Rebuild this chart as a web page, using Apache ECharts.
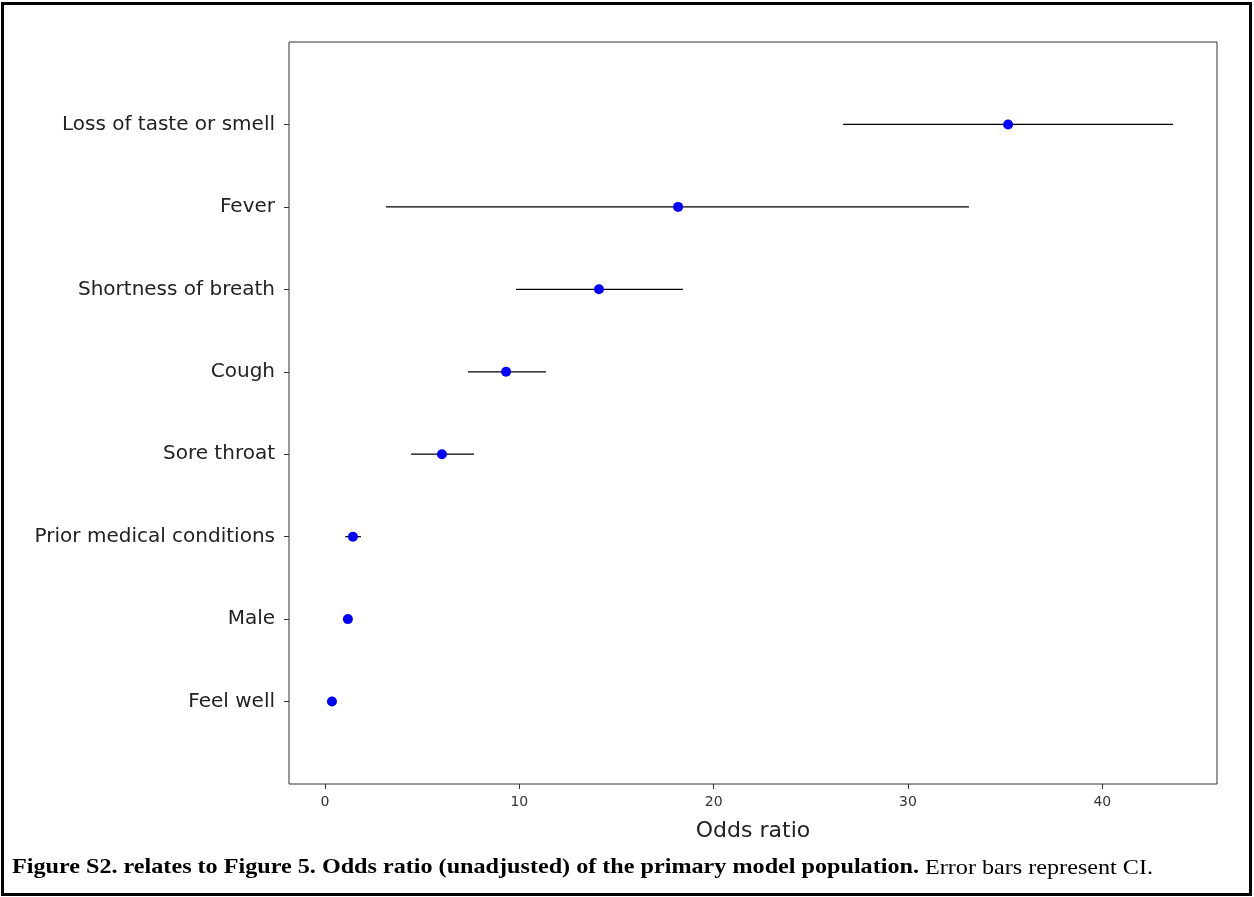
<!DOCTYPE html>
<html><head><meta charset="utf-8">
<script src="https://cdn.jsdelivr.net/npm/echarts@6/dist/echarts.min.js"></script>
<style>html,body{margin:0;padding:0;background:#fff}#c{width:1254px;height:897px}</style>
</head><body><div id="c"></div>
<script>
const categories = ["Loss of taste or smell","Fever","Shortness of breath","Cough","Sore throat","Prior medical conditions","Male","Feel well"];
const oddsRatio = [35.15, 18.17, 14.10, 9.32, 6.02, 1.44, 1.18, 0.36];
const ciLow = [26.66, 3.14, 9.83, 7.36, 4.43, 1.05, 1.05, 0.30];
const ciHigh = [43.64, 33.14, 18.43, 11.37, 7.67, 1.85, 1.35, 0.45];
const xTicks = [0, 10, 20, 30, 40];

const chart = echarts.init(document.getElementById('c'), null, {renderer: 'canvas'});
const yIdx = categories.map((_, i) => i);
const font = 'DejaVu Sans';
chart.setOption({
  animation: false,
  grid: {left: 289, top: 42, right: 1254 - 1217, bottom: 897 - 784, show: true, borderColor: '#333', borderWidth: 1, backgroundColor: 'transparent'},
  xAxis: {
    type: 'value', min: -1.85, max: 45.9,
    name: 'Odds ratio', nameLocation: 'middle', nameGap: 36,
    nameTextStyle: {fontFamily: font, fontSize: 22, color: '#222'},
    axisLine: {show: false, onZero: false},
    splitLine: {show: false},
    axisTick: {show: true, length: 5, lineStyle: {color: '#333'}, customValues: xTicks},
    axisLabel: {fontFamily: font, fontSize: 14, color: '#333', margin: 11, customValues: xTicks}
  },
  yAxis: {
    type: 'value', min: -1, max: 8, inverse: true,
    axisLine: {show: false, onZero: false},
    splitLine: {show: false},
    axisTick: {show: true, length: 5, lineStyle: {color: '#333'}, customValues: yIdx},
    axisLabel: {fontFamily: font, fontSize: 20, color: '#222', margin: 14, customValues: yIdx,
      formatter: v => categories[Math.round(v)] ?? ''}
  },
  series: [
    {
      type: 'custom',
      data: categories.map((c, i) => [ciLow[i], ciHigh[i], i]),
      renderItem: (params, api) => {
        const a = api.coord([api.value(0), api.value(2)]);
        const b = api.coord([api.value(1), api.value(2)]);
        return {type: 'line', shape: {x1: a[0], y1: a[1], x2: b[0], y2: b[1]}, style: {stroke: '#000', lineWidth: 1.3}};
      },
      z: 1
    },
    {
      type: 'scatter',
      data: oddsRatio.map((v, i) => [v, i]),
      symbol: 'circle', symbolSize: 10,
      itemStyle: {color: '#0000ff', opacity: 1},
      z: 2
    }
  ],
  graphic: [
    {type: 'rect', shape: {x: 2.5, y: 3.5, width: 1248, height: 891}, style: {fill: 'none', stroke: '#000', lineWidth: 3}},
    {type: 'text', x: 12, y: 868, scaleX: 1.15, originX: 0, style: {
      text: '{b|Figure S2. relates to Figure 5. Odds ratio (unadjusted) of the primary model population.}{n| Error bars represent CI.}',
      verticalAlign: 'middle',
      rich: {
        b: {fontFamily: 'Liberation Serif', fontWeight: 'bold', fontSize: 21, fill: '#000'},
        n: {fontFamily: 'Liberation Serif', fontSize: 21, fill: '#000'}
      }
    }}
  ]
});
</script></body></html>
